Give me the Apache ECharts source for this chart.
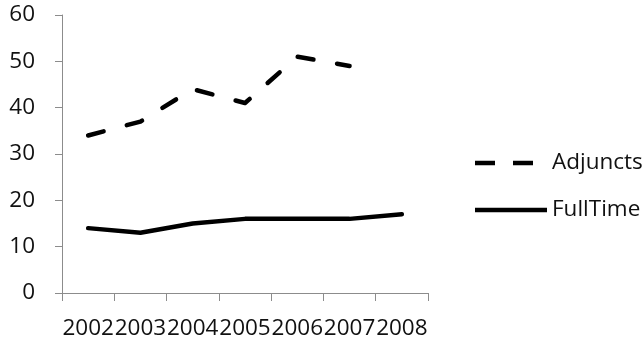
<!DOCTYPE html>
<html>
<head>
<meta charset="utf-8">
<script src="https://cdn.jsdelivr.net/npm/echarts@6/dist/echarts.min.js"></script>
<style>
  html, body { margin: 0; padding: 0; background: #fff; }
  #chart { width: 642px; height: 350px; }
</style>
</head>
<body>
<div id="chart"></div>
<script>
// Staffing counts per year
const years = ['2002', '2003', '2004', '2005', '2006', '2007', '2008'];
const adjuncts = [34, 37, 44, 41, 51, 49, null];
const fullTime = [14, 13, 15, 16, 16, 16, 17];
const yTicks = { min: 0, max: 60, interval: 10 };

const FONT = '"Open Sans", "Liberation Sans", sans-serif';
const INK = '#111';
const AXIS = '#8c8c8c';

// Legend keys drawn as filled strips (72 x 4.5); the dashed key has a
// tiny trailing speck so both keys share the same width.
const DASH_KEY = 'path://M0,0h20v4.5h-20z M38,0h20v4.5h-20z M71.9,2.2h0.1v0.1h-0.1z';
const SOLID_KEY = 'path://M0,0h72v4.5h-72z';

const chart = echarts.init(document.getElementById('chart'), null, { renderer: 'canvas' });

chart.setOption({
  animation: false,
  backgroundColor: '#ffffff',
  grid: { left: 62, right: 214, top: 15, bottom: 57, containLabel: false },
  xAxis: {
    type: 'category',
    data: years,
    boundaryGap: true,
    axisLine: { lineStyle: { color: AXIS, width: 1 } },
    axisTick: { show: true, length: 8, interval: 0, lineStyle: { color: AXIS } },
    axisLabel: {
      interval: 0, hideOverlap: false, margin: 24,
      color: INK, fontFamily: FONT, fontSize: 22.5
    },
    splitLine: { show: false }
  },
  yAxis: {
    type: 'value',
    min: yTicks.min, max: yTicks.max, interval: yTicks.interval,
    axisLine: { show: true, lineStyle: { color: AXIS, width: 1 } },
    axisTick: { show: true, length: 7, lineStyle: { color: AXIS } },
    axisLabel: { margin: 27, color: INK, fontFamily: FONT, fontSize: 22.5 },
    splitLine: { show: false }
  },
  legend: {
    orient: 'vertical',
    left: 470, top: 146,
    itemWidth: 72, itemHeight: 4.5, itemGap: 23,
    textStyle: { color: INK, fontFamily: FONT, fontSize: 22.5, lineHeight: 24 },
    data: [
      { name: 'Adjuncts', icon: DASH_KEY },
      { name: 'FullTime', icon: SOLID_KEY }
    ]
  },
  series: [
    {
      name: 'Adjuncts', type: 'line', data: adjuncts,
      symbol: 'none', connectNulls: false,
      lineStyle: { color: '#000', width: 4.5, type: [16, 24], cap: 'round', join: 'round' },
      itemStyle: { color: '#000' }
    },
    {
      name: 'FullTime', type: 'line', data: fullTime,
      symbol: 'none',
      lineStyle: { color: '#000', width: 4.5, type: 'solid', cap: 'round', join: 'round' },
      itemStyle: { color: '#000' }
    }
  ]
});
</script>
</body>
</html>
